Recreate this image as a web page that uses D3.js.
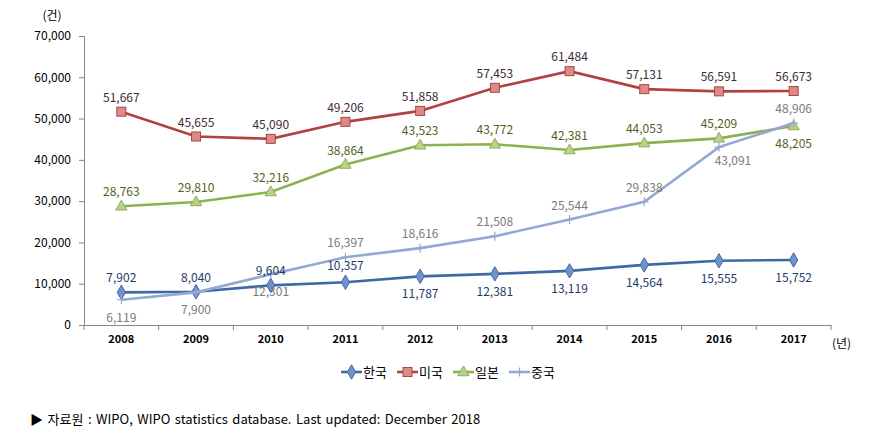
<!DOCTYPE html>
<html><head><meta charset="utf-8">
<script src="https://cdn.jsdelivr.net/npm/d3@7"></script>
<style>
html,body{margin:0;padding:0;background:#fff;}
svg text{font-family:"Noto Sans CJK KR","Malgun Gothic",sans-serif;}
</style></head>
<body><svg id="c" width="879" height="442"></svg>
<script>
const years = ["2008","2009","2010","2011","2012","2013","2014","2015","2016","2017"];
const korea = [7902,8040,9604,10357,11787,12381,13119,14564,15555,15752];
const usa   = [51667,45655,45090,49206,51858,57453,61484,57131,56591,56673];
const japan = [28763,29810,32216,38864,43523,43772,42381,44053,45209,48205];
const china = [6119,7900,12301,16397,18616,21508,25544,29838,43091,48906];
const yTicks = [0,10000,20000,30000,40000,50000,60000,70000];
const seriesNames = ["한국","미국","일본","중국"];

const svg = d3.select("#c");
const x = d3.scaleBand().domain(years).range([84,831]);
const y = d3.scaleLinear().domain([0,70000]).range([325,36]);
const cx = d => x(d) + x.bandwidth()/2;
const fmt = d3.format(",");

// axes
const yAxis = svg.append("g").attr("transform","translate(84,0)")
  .call(d3.axisLeft(y).tickValues(yTicks).tickSize(5).tickFormat(fmt));
yAxis.select(".domain").attr("stroke","#868686");
yAxis.selectAll(".tick line").attr("stroke","#868686");
yAxis.selectAll(".tick text").attr("font-size",12).attr("fill","#000").attr("x",-13)
  .style("font-family","'Noto Sans CJK KR',sans-serif");

const xAxis = svg.append("g").attr("transform","translate(0,325)")
  .call(d3.axisBottom(x).tickSize(0).tickPadding(10));
xAxis.select(".domain").attr("stroke","#868686");
xAxis.selectAll(".tick text").attr("font-size",11).attr("font-weight","bold").attr("fill","#000");
const bounds = years.map(d => x(d)).concat([x.range()[1]]);
svg.append("g").selectAll("line").data(bounds).join("line")
  .attr("x1",d=>d).attr("x2",d=>d).attr("y1",325).attr("y2",330).attr("stroke","#868686");

svg.append("text").attr("x",52).attr("y",20).attr("font-size",12).attr("text-anchor","middle").text("(건)");
svg.append("text").attr("x",832).attr("y",348).attr("font-size",12).text("(년)");

// label placement offsets [dx, dy] from the point
const ABOVE = [0,-10], BELOW = [0,22];
const labelOffset = {
  "한국": i => i <= 3 ? (i === 3 ? [0,-12] : ABOVE) : BELOW,
  "미국": () => ABOVE,
  "일본": i => i === 9 ? BELOW : ABOVE,
  "중국": i => i <= 2 ? BELOW : (i === 8 ? [14,18] : ABOVE)
};

const series = [
  {name:seriesNames[0], vals:korea, line:"#3F68A6", fill:"#6E93CB", txt:"#1F3A66", marker:"diamond"},
  {name:seriesNames[1], vals:usa, line:"#B0423F", fill:"#DB8B89", txt:"#3E2A3A", marker:"square"},
  {name:seriesNames[2], vals:japan, line:"#8CB150", fill:"#B9D18E", txt:"#4F5F24", marker:"triangle"},
  {name:seriesNames[3], vals:china, line:"#93A8D2", fill:"none", txt:"#7A7A7A", marker:"plus"}
];

function drawMarker(g, type, px, py, s){
  if(type==="diamond"){
    g.append("path").attr("d",d3.symbol(d3.symbolDiamond,60)()).attr("transform",`translate(${px},${py})`)
      .attr("fill",s.fill).attr("stroke",s.line).attr("stroke-width",1);
  } else if(type==="square"){
    g.append("rect").attr("x",px-4.5).attr("y",py-4.5).attr("width",9).attr("height",9)
      .attr("fill",s.fill).attr("stroke",s.line).attr("stroke-width",1);
  } else if(type==="triangle"){
    g.append("path").attr("d",d3.symbol(d3.symbolTriangle,55)()).attr("transform",`translate(${px},${py+0.5})`)
      .attr("fill",s.fill).attr("stroke",s.line).attr("stroke-width",1);
  } else {
    g.append("path").attr("d",`M${px-4.5},${py}H${px+4.5}M${px},${py-4.5}V${py+4.5}`)
      .attr("stroke",s.line).attr("stroke-width",1.2).attr("fill","none");
  }
}

const line = d3.line().x((d,i)=>cx(years[i])).y(d=>y(d));
series.forEach(s=>{
  const g = svg.append("g");
  g.append("path").attr("d",line(s.vals)).attr("fill","none").attr("stroke",s.line).attr("stroke-width",2.6);
  s.vals.forEach((v,i)=>drawMarker(g,s.marker,cx(years[i]),y(v),s));
});
series.forEach(s=>{
  svg.append("g").selectAll("text").data(s.vals).join("text")
    .attr("x",(d,i)=>cx(years[i]) + labelOffset[s.name](i)[0])
    .attr("y",(d,i)=> y(d) + labelOffset[s.name](i)[1])
    .attr("text-anchor","middle").attr("font-size",12).attr("fill",s.txt).text(d=>fmt(d));
});

// legend
const legX = [341,397,453,509];
series.forEach((s,i)=>{
  const g = svg.append("g");
  g.append("line").attr("x1",legX[i]).attr("x2",legX[i]+21).attr("y1",372).attr("y2",372)
    .attr("stroke",s.line).attr("stroke-width",2.6);
  drawMarker(g,s.marker,legX[i]+10.5,372,s);
  g.append("text").attr("x",legX[i]+22).attr("y",377).attr("font-size",13).attr("fill","#000").text(s.name);
});

// source
svg.append("text").attr("x",30).attr("y",424).attr("font-size",13).attr("word-spacing",1.6).attr("fill","#000")
  .text("▶ 자료원 : WIPO, WIPO statistics database. Last updated: December 2018");
</script></body></html>
